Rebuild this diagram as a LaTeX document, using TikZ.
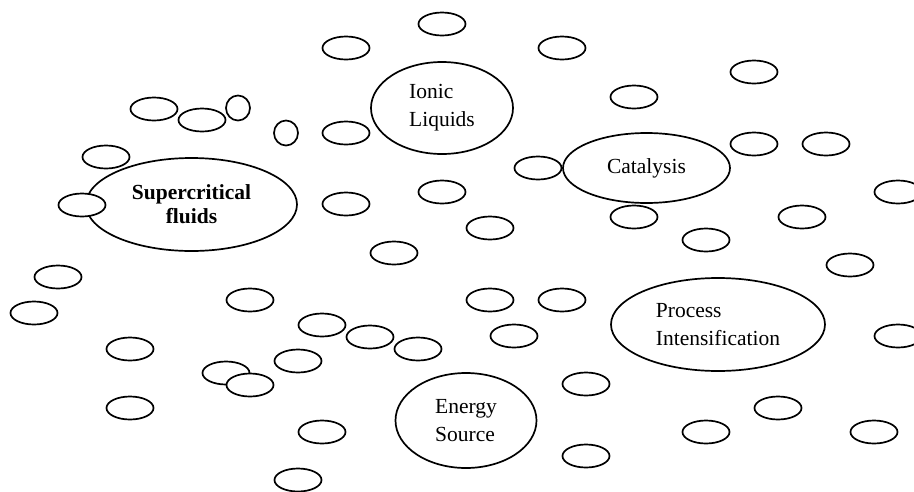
\documentclass[tikz,border=0pt]{standalone}
\usepackage{fontspec}
\setmainfont{Liberation Serif}
\usepackage{tikz}
\usetikzlibrary{shapes.geometric}

\begin{document}
\begin{tikzpicture}[x=1pt,y=-1pt,
    bubble/.style={draw,fill=white,ellipse,line width=1.7pt,inner sep=0pt,minimum width=47pt,minimum height=23pt},
    dot/.style={bubble,minimum width=24pt,minimum height=25pt},
    topic/.style={draw,ellipse,line width=1.7pt,inner sep=0pt,align=left,
      font=\fontsize{21.5}{28}\selectfont}]
      \useasboundingbox (0,0) rectangle (914,491);
      \clip (0,0) rectangle (914,491);

      % main topics
      \node[topic,minimum width=211pt,minimum height=93pt,align=center,
        font=\fontsize{21.5}{24}\selectfont\bfseries] (scf) at (191.5,204.5) {Supercritical\\fluids};
      \node[topic,minimum width=142pt,minimum height=92pt] (il) at (442,108) {Ionic\\Liquids};
      \node[topic,minimum width=167pt,minimum height=70pt] (cat) at (646.5,168) {Catalysis};
      \node[topic,minimum width=214pt,minimum height=93pt] (pi) at (718,324.5) {Process\\Intensification};
      \node[topic,minimum width=141pt,minimum height=95pt] (es) at (466,420.5) {Energy\\Source};

      % small bubbles
      \node[bubble] (1) at (442,24) {};
      \node[bubble] (2) at (346,48) {};
      \node[bubble] (3) at (562,48) {};
      \node[bubble] (4) at (754,72) {};
      \node[bubble] (5) at (634,97) {};
      \node[bubble] (6) at (154,109) {};
      \node[bubble] (7) at (202,120) {};
      \node[dot] (8) at (238,108) {};
      \node[dot] (9) at (286,133) {};
      \node[bubble] (10) at (346,133) {};
      \node[bubble] (11) at (754,144) {};
      \node[bubble] (12) at (826,144) {};
      \node[bubble] (13) at (106,157) {};
      \node[bubble] (14) at (538,168) {};
      \node[bubble] (15) at (898,192) {};
      \node[bubble] (16) at (442,192) {};
      \node[bubble] (17) at (82,205) {};
      \node[bubble] (18) at (346,204) {};
      \node[bubble] (19) at (634,217) {};
      \node[bubble] (20) at (802,217) {};
      \node[bubble] (21) at (490,228) {};
      \node[bubble] (22) at (706,240) {};
      \node[bubble] (23) at (394,253) {};
      \node[bubble] (24) at (850,265) {};
      \node[bubble] (25) at (58,277) {};
      \node[bubble] (26) at (250,300) {};
      \node[bubble] (27) at (490,300) {};
      \node[bubble] (28) at (562,300) {};
      \node[bubble] (29) at (34,313) {};
      \node[bubble] (30) at (322,325) {};
      \node[bubble] (31) at (514,336) {};
      \node[bubble] (32) at (370,337) {};
      \node[bubble] (33) at (898,336) {};
      \node[bubble] (34) at (130,349) {};
      \node[bubble] (35) at (418,349) {};
      \node[bubble] (36) at (298,361) {};
      \node[bubble] (37) at (226,373) {};
      \node[bubble] (38) at (250,385) {};
      \node[bubble] (39) at (586,384) {};
      \node[bubble] (40) at (778,408) {};
      \node[bubble] (41) at (130,408) {};
      \node[bubble] (42) at (706,432) {};
      \node[bubble] (43) at (874,432) {};
      \node[bubble] (44) at (322,432) {};
      \node[bubble] (45) at (586,456) {};
      \node[bubble] (46) at (298,480) {};
    \end{tikzpicture}
\end{document}
